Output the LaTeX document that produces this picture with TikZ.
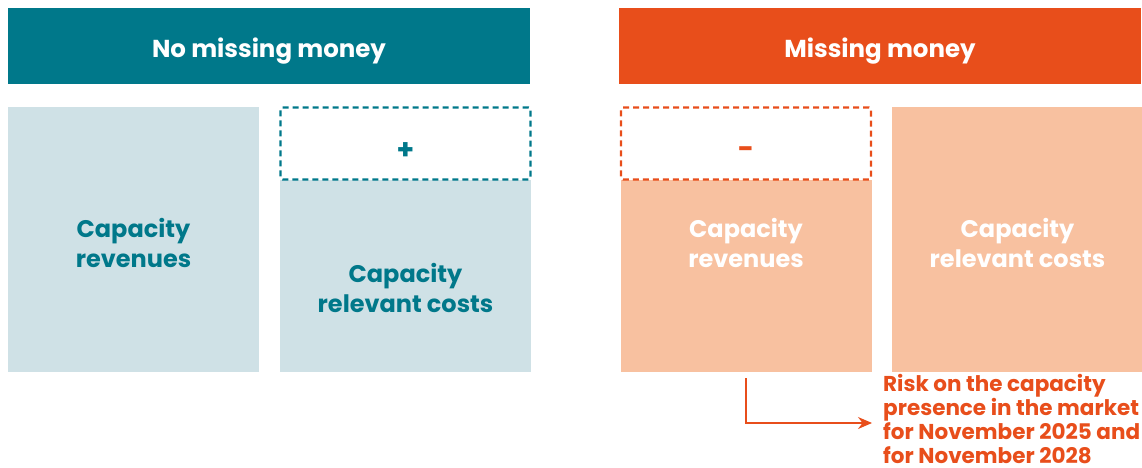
\documentclass[tikz,border=0pt]{standalone}
\usepackage{fontspec}
\setmainfont{Poppins}
\usetikzlibrary{arrows.meta}
\definecolor{teal}{HTML}{00788A}
\definecolor{orng}{HTML}{E84E1B}
\definecolor{lblue}{HTML}{CFE1E6}
\definecolor{lorng}{HTML}{F8C1A0}
\begin{document}
\begin{tikzpicture}[x=1pt,y=-1pt,
  header/.style={draw=none,minimum width=522pt,minimum height=76pt,inner sep=0pt,text=white},
  htext/.style={inner sep=0pt,text=white,font=\fontsize{24.5}{28}\selectfont\bfseries},
  block/.style={draw=none,minimum width=251pt,minimum height=265pt,inner sep=0pt},
  lower/.style={draw=none,minimum width=251pt,minimum height=192pt,inner sep=0pt},
  dashbox/.style={rounded corners=2pt,line width=2.4pt,dash pattern=on 6pt off 4pt,minimum width=250pt,minimum height=72pt,inner sep=0pt},
  btext/.style={align=center,font=\fontsize{24}{30}\selectfont\bfseries},
  sign/.style={font=\fontsize{28}{28}\selectfont\bfseries}
]
\useasboundingbox (0,0) rectangle (1142,468);
% headers
\node[header,fill=teal] (h1) at (269,46) {};
\node[htext] (ht1) at (269,51) {No missing money};
\node[header,fill=orng] (h2) at (880,46) {};
\node[htext] (ht2) at (880,51) {Missing money};
% left group
\node[block,fill=lblue] (b1) at (133.5,239.5) {};
\node[btext,text=teal] (t1) at (133.5,243) {Capacity\\revenues};
\node[lower,fill=lblue] (b2) at (405,276) {};
\node[dashbox,draw=teal] (d2) at (405.5,143.5) {};
\node[sign,text=teal] (p2) at (405.5,151) {+};
\node[btext,text=teal] (t2) at (405.5,288) {Capacity\\relevant costs};
% right group
\node[lower,fill=lorng] (b3) at (746,276) {};
\node[dashbox,draw=orng] (d3) at (746,143.5) {};
\node[sign,text=orng] (m3) at (746,153) {-};
\node[btext,text=white] (t3) at (746,243) {Capacity\\revenues};
\node[block,fill=lorng] (b4) at (1017.5,239.5) {};
\node[btext,text=white] (t4) at (1017.5,243) {Capacity\\relevant costs};
% risk text
\node[anchor=north west,align=left,text=orng,inner sep=0pt,font=\fontsize{21.5}{24}\selectfont\bfseries] (risk) at (883,374) {Risk on the capacity\\presence in the market\\for November 2025 and\\for November 2028};
\coordinate (a0) at (746,378);
\coordinate (a1) at (746,423);
\coordinate (a2) at (872,423);
\draw[orng,line width=1.6pt,-{Stealth[length=14pt,width=12pt]}] (a0) -- (a1) -- (a2);
\end{tikzpicture}
\end{document}
